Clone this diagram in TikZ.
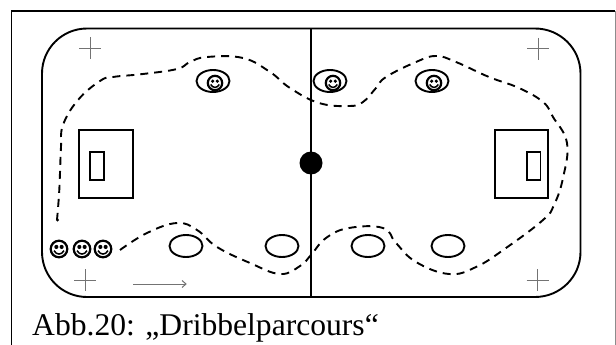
\documentclass[tikz,border=0pt]{standalone}
\usepackage{fontspec}
\setmainfont{Liberation Serif}
\tikzset{
  ink/.style={draw=black,line width=1.9pt},
  thin gray/.style={draw=black!55,line width=1pt},
  route/.style={draw=black,line width=1.9pt,dash pattern=on 8pt off 6pt},
  pics/smiley/.style={code={
    \draw[black,line width=2.2pt] (0,0) circle (#1);
    \fill[black] (-0.32*#1,-0.25*#1) circle (0.25*#1);
    \fill[black] (0.32*#1,-0.25*#1) circle (0.25*#1);
    \draw[black,line width=1.5pt] (-0.6*#1,0.2*#1) .. controls (-0.3*#1,0.75*#1) and (0.3*#1,0.75*#1) .. (0.6*#1,0.2*#1);
  }}
}
\begin{document}
\begin{tikzpicture}[x=1pt,y=-1pt]
\useasboundingbox (0,0) rectangle (616,345);
\fill[white] (0,0) rectangle (616,345);
% frame
\draw[black,line width=1.8pt] (11.5,345) -- (11.5,11) -- (615,11);
\draw[black!45,line width=0.8pt] (615,11) -- (615,345);
% rink
\draw[ink] (87,28.5) -- (535,28.5) arc[start angle=90,end angle=0,x radius=45.5,y radius=-45] -- (580.5,252) arc[start angle=0,end angle=-90,x radius=45.5,y radius=-45] -- (87,297) arc[start angle=-90,end angle=-180,x radius=45,y radius=-45] -- (42,73.5) arc[start angle=180,end angle=90,x radius=45,y radius=-45] -- cycle;
\draw[ink] (311,28.5) -- (311,297);
\fill[black] (311,163) circle (11.5);
% goals
\draw[ink] (79,130) rectangle (133,198);
\draw[ink] (90,152) rectangle (104,180);
\draw[ink] (495,130) rectangle (548,198);
\draw[ink] (527,152) rectangle (540.5,180);
% crosses
\foreach \cx/\cy in {90/48.5,85/280,538/49,537.7/280}{
  \draw[thin gray] (\cx-11,\cy) -- (\cx+11,\cy) (\cx,\cy-11) -- (\cx,\cy+11);
}
\draw[thin gray] (133,284) -- (186,284);
\draw[thin gray] (182,280.5) -- (186,284) -- (182,287.5);
% cones
\foreach \ox/\oy in {213/81,330/81,432/81,186/246,282/246,368/246,448/246}{
  \draw[ink] (\ox,\oy) ellipse[x radius=16.5,y radius=11];
}
% players
\foreach \fx/\fy in {215/83,333/83,434/83}{
  \pic at (\fx,\fy) {smiley=7.2};
}
\foreach \fx in {59,82,103}{
  \pic at (\fx,249) {smiley=8.3};
}
% route
\draw[route] plot[smooth,tension=0.7] coordinates {
 (120,250) (147,233) (177,223) (197,230) (217,247) (250,263) (280,274) (300,266)
 (311,255) (326,238) (349,228) (383,228) (396,243) (416,262) (449,274) (476,267)
 (506,248) (543,220) (554,205) (563,178) (567,143) (553,117) (543,102) (519,88)
 (489,77) (456,62) (436,56) (416,62) (386,77) (376,88) (363,102) (349,106)
 (319,103) (290,88) (270,72) (243,58) (207,57) (190,62) (177,69) (143,74)
 (113,77) (100,81) (78,100) (63,125) (61,147) (60,173) (59,195) (57,220)};
\fill[black] (57.5,220) circle (1.6);
% caption
\node[anchor=base west,inner sep=0pt,font=\fontsize{31.6}{36}\selectfont] (cap) at (32,335) {Abb.20: „Dribbelparcours“};
\end{tikzpicture}
\end{document}
